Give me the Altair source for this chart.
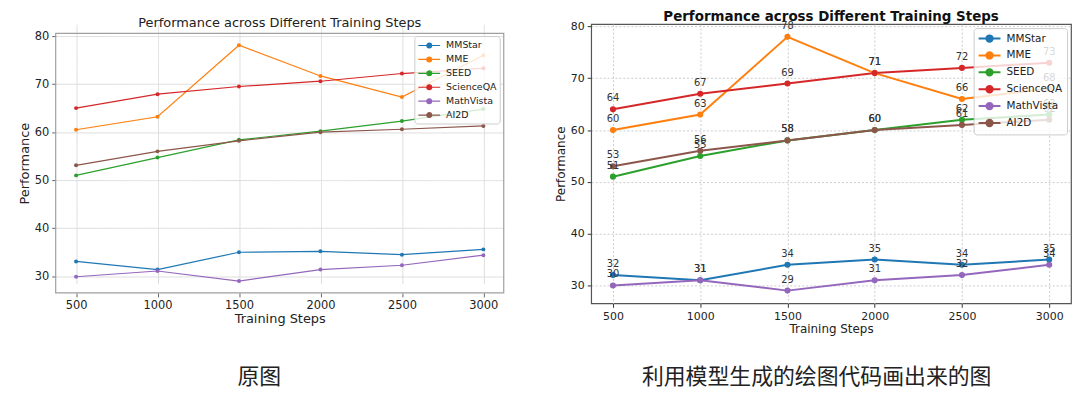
import altair as alt
import pandas as pd

steps = [500, 1000, 1500, 2000, 2500, 3000]
series = ["MMStar", "MME", "SEED", "ScienceQA", "MathVista", "AI2D"]
colors = ["#1f77b4", "#ff7f0e", "#2ca02c", "#d62728", "#9467bd", "#8c564b"]

# left panel: original chart
orig_mmstar = [33.1, 31.4, 35.0, 35.2, 34.5, 35.6]
orig_mme = [60.5, 63.2, 78.1, 71.7, 67.3, 76.0]
orig_seed = [51.0, 54.7, 58.4, 60.2, 62.3, 64.8]
orig_scienceqa = [65.0, 67.9, 69.5, 70.6, 72.2, 73.3]
orig_mathvista = [29.9, 31.1, 29.0, 31.4, 32.3, 34.4]
orig_ai2d = [53.1, 56.0, 58.2, 60.0, 60.6, 61.3]

# right panel: chart drawn from generated code
gen_mmstar = [32, 31, 34, 35, 34, 35]
gen_mme = [60, 63, 78, 71, 66, 68]
gen_seed = [51, 55, 58, 60, 62, 63]
gen_scienceqa = [64, 67, 69, 71, 72, 73]
gen_mathvista = [30, 31, 29, 31, 32, 34]
gen_ai2d = [53, 56, 58, 60, 61, 62]

y_ticks = [30, 40, 50, 60, 70, 80]
title_text = "Performance across Different Training Steps"
x_title = "Training Steps"
y_title = "Performance"
captions = ["原图", "利用模型生成的绘图代码画出来的图"]

FONT = "DejaVu Sans"
CJK = "Noto Sans CJK SC"
XDOM = [375, 3125]


def long_df(lists):
    rows = []
    for s, vals in zip(series, lists):
        for st, v in zip(steps, vals):
            rows.append({"step": st, "value": v, "series": s})
    return pd.DataFrame(rows)


def sym(r):
    # line from -1 to 3 units with a dot at 1
    return (f"M-1,0L3,0M{1 - r},0A{r},{r},0,1,0,{1 + r},0"
            f"A{r},{r},0,1,0,{1 - r},0Z")


def panel(lists, w, h, ydom, c):
    df = long_df(lists)
    xax = alt.Axis(values=steps, format="d", title=x_title, grid=True,
                   gridColor=c["grid"], gridDash=c["dash"], gridWidth=c["gw"],
                   domain=False, tickColor=c["tick"], tickSize=4,
                   labelFont=FONT, labelFontSize=c["lfs"], labelColor="#222",
                   titleFont=FONT, titleFontSize=c["tfs"], titleColor="#222",
                   titleFontWeight="normal", labelPadding=3, titlePadding=c["xtp"],
                   labelFlush=False)
    yax = alt.Axis(values=y_ticks, format="d", title=y_title, grid=True,
                   gridColor=c["grid"], gridDash=c["dash"], gridWidth=c["gw"],
                   domain=False, tickColor=c["tick"], tickSize=4,
                   labelFont=FONT, labelFontSize=c["lfs"], labelColor="#222",
                   titleFont=FONT, titleFontSize=c["tfs"], titleColor="#222",
                   titleFontWeight="normal", labelPadding=3, titlePadding=c["ytp"])
    if c.get("yrange"):
        yscale = alt.Scale(domain=ydom, nice=False, zero=False, range=c["yrange"])
    else:
        yscale = alt.Scale(domain=ydom, nice=False, zero=False)
    xscale = alt.Scale(domain=XDOM, nice=False, zero=False)
    base = alt.Chart(df).encode(
        x=alt.X("step:Q", scale=xscale, axis=xax),
        y=alt.Y("value:Q", scale=yscale, axis=yax),
    )
    leg = alt.Legend(title=None, orient="none", legendX=c["lx"], legendY=c["ly"],
                     symbolType=sym(c["sr"]), symbolSize=121, symbolStrokeWidth=c["sw"],
                     labelFont=FONT, labelFontSize=c["legfs"], labelColor="#222",
                     fillColor="rgba(255,255,255,0.8)", strokeColor="#cccccc",
                     cornerRadius=3, padding=c["lpad"], rowPadding=c["rowpad"],
                     labelOffset=c["loff"])
    scale = alt.Scale(domain=series, range=colors)
    layers = []
    if c.get("rect_frame"):
        frame_df = pd.DataFrame({"x0": [XDOM[0]], "x1": [XDOM[1]],
                                 "y0": [ydom[0]], "y1": [ydom[1]]})
        layers.append(alt.Chart(frame_df).mark_rect(
            fill="transparent", stroke=c["frame"], strokeWidth=c["fw"]
        ).encode(x=alt.X("x0:Q", scale=xscale, axis=xax), x2="x1",
                 y=alt.Y("y0:Q", scale=yscale, axis=yax), y2="y1"))
    lines = base.mark_line(strokeWidth=c["sw"]).encode(
        stroke=alt.Stroke("series:N", scale=scale, legend=leg, sort=series))
    pts = base.mark_circle(size=c["ms"], opacity=1).encode(
        fill=alt.Fill("series:N", scale=scale, legend=leg, sort=series))
    layers += [lines, pts]
    if c["labels"]:
        layers.append(base.mark_text(dy=-11, fontSize=10, font=FONT, color="#333").encode(
            text=alt.Text("value:Q", format="d")))
    cap = alt.Chart(pd.DataFrame({"t": [c["caption"]]})).mark_text(
        font=CJK, fontSize=22, color="#222", baseline="middle", align="center"
    ).encode(text="t:N", x=alt.value(c["cx"]), y=alt.value(c["cy"]))
    layers.append(cap)
    props = dict(width=w, height=h)
    if c.get("title_mark"):
        layers.append(alt.Chart(pd.DataFrame({"t": [title_text]})).mark_text(
            font=FONT, fontSize=13, color="#222", baseline="middle", align="center"
        ).encode(text="t:N", x=alt.value(w / 2), y=alt.value(c["ty"])))
        props["view"] = alt.ViewBackground(stroke="transparent")
    else:
        props["title"] = alt.TitleParams(title_text, font=FONT, fontSize=13.5,
                                         fontWeight="bold", color="#111", offset=-3,
                                         anchor="middle")
        props["view"] = alt.ViewBackground(stroke=c["frame"], strokeWidth=c["fw"])
    return alt.layer(*layers).properties(**props)


# left view top sits at the shared row origin (about y=23); its frame starts lower
left_cfg = dict(grid="#dcdcdc", dash=[1, 0], gw=1, tick="#666", lfs=11.5, tfs=13,
                xtp=1, ytp=3, lx=361, ly=12, sr=0.44, sw=1.2, legfs=9.5, lpad=3, rowpad=2,
                loff=16, ms=16, labels=False, caption=captions[0], cx=205, cy=355,
                frame="#a0a0a0", fw=1.2, yrange=[270.5, 9.3], rect_frame=True,
                title_mark=True, ty=-1)
right_cfg = dict(grid="#cccccc", dash=[2, 2], gw=1, tick="#333", lfs=11, tfs=12,
                 xtp=2, ytp=3, lx=385, ly=4, sr=0.58, sw=2, legfs=10.5, lpad=4, rowpad=2,
                 loff=16, ms=38, labels=True, caption=captions[1], cx=227, cy=355,
                 frame="#555555", fw=1.2)

left = panel([orig_mmstar, orig_mme, orig_seed, orig_scienceqa, orig_mathvista, orig_ai2d],
             451, 270.5, [26.545, 80.555], left_cfg)
right = panel([gen_mmstar, gen_mme, gen_seed, gen_scienceqa, gen_mathvista, gen_ai2d],
              483, 281, [26.55, 80.45], right_cfg)

chart = alt.hconcat(left, right, spacing=48).resolve_scale(
    x="independent", y="independent", stroke="independent", fill="independent"
).resolve_legend(stroke="independent", fill="independent").properties(
    padding={"left": 9, "top": 0, "right": 0, "bottom": 0}, background="white"
).configure(font=FONT)

chart.save("out.html", embed_options={"renderer": "svg", "actions": False})
